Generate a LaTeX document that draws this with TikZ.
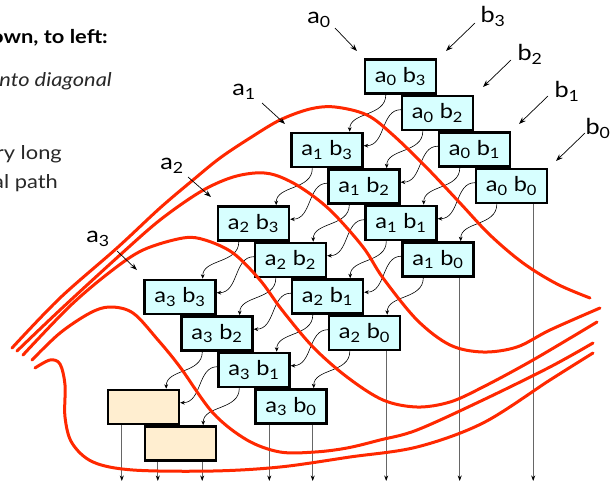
\documentclass[tikz,border=0pt]{standalone}
\usepackage{fontspec}
\setmainfont{Lato}[FakeStretch=1.15]
\usetikzlibrary{arrows.meta,calc}
\definecolor{cellblue}{RGB}{215,255,255}
\definecolor{celltan}{RGB}{255,238,208}
\definecolor{wire}{RGB}{255,40,0}
\definecolor{txt}{RGB}{40,40,40}
\begin{document}
\begin{tikzpicture}[x=1pt,y=-1pt,
  cell/.style={draw=black, line width=2.4pt, fill=cellblue, minimum width=71pt, minimum height=34.2pt, inner sep=0pt, font=\fontsize{20.5}{23}\selectfont},
  tancell/.style={cell, fill=celltan},
  carry/.style={line width=0.6pt, -{Stealth[length=4.5pt,width=3.8pt]}},
  outwire/.style={line width=0.8pt, draw=black!60, -{Stealth[length=5.5pt,width=4pt,color=black]}},
  feed/.style={line width=0.7pt, -{Stealth[length=7pt,width=5pt]}},
  lab/.style={font=\fontsize{22}{25}\selectfont, inner sep=0pt},
  side/.style={font=\fontsize{19}{23}\selectfont, text=txt, inner sep=0pt, anchor=base east},
  rwire/.style={draw=wire, line width=3pt, line cap=round}]
\useasboundingbox (0,0) rectangle (611,485);
\clip (0,0) rectangle (611,485);

% side text (cut off at the left edge, as in the reference)
\node[side, font=\bfseries\fontsize{19}{23}\selectfont, text=black] (t1) at (108,43) {own, to left:};
\node[side, font=\itshape\fontsize{19}{23}\selectfont] (t2) at (112,86) {nto diagonal};
\node[side] (t3) at (62,159) {ry long};
\node[side] (t4) at (58,188) {al path};

% cells
\foreach \i in {0,...,3}{
  \foreach \j in {0,...,3}{
    \node[cell] (c\i\j) at ({400.5+37*(3-\j)-73.5*\i},{76.5+36.5*(3-\j)+73.5*\i})
      {a\textsubscript{\i} b\textsubscript{\j}};
  }
}
\node[tancell] (t42) at (143.5,407) {};
\node[tancell] (t41) at (180.5,443.5) {};

% carry / sum arrows
\foreach \i/\ii in {0/1,1/2,2/3}{
  \foreach \j in {0,...,3}{
    \draw[carry] ($(c\i\j.south west)+(22,0)$) coordinate (p)
      .. controls ($(p)+(0,22)$) and ($(c\ii\j.north east)+(-14,-20)$) .. ($(c\ii\j.north east)+(-14,0)$);
  }
  \foreach \j/\jj in {0/1,1/2,2/3}{
    \draw[carry] ($(c\i\j.north west)+(0,15)$) coordinate (p)
      .. controls ($(p)+(-20,0)$) and ($(c\ii\jj.north east)+(22,14)$) .. ($(c\ii\jj.north east)+(0,14)$);
  }
}
\draw[carry] ($(c32.south west)+(22,0)$) coordinate (p)
  .. controls ($(p)+(0,22)$) and ($(t42.north east)+(-14,-20)$) .. ($(t42.north east)+(-14,0)$);
\draw[carry] ($(c31.south west)+(22,0)$) coordinate (p)
  .. controls ($(p)+(0,22)$) and ($(t41.north east)+(-14,-20)$) .. ($(t41.north east)+(-14,0)$);
\draw[carry] ($(c31.north west)+(0,15)$) coordinate (p)
  .. controls ($(p)+(-20,0)$) and ($(t42.north east)+(22,14)$) .. ($(t42.north east)+(0,14)$);

% outputs
\coordinate (bot) at (0,481);
\foreach \n/\dx/\anc in {c00/-15/south east, c10/-15/south east, c20/-15/south east,
    c30/-15/south east, c30/15/south west, t41/14/south west, t41/-15/south east, t42/15/south west}{
  \draw[outwire] ($(\n.\anc)+(\dx,0)$) coordinate (o) -- (o |- bot);
}

% red wires
\draw[rwire] plot[smooth, tension=0.55] coordinates {(12,348) (60,298) (117,248) (160,208) (193,180) (220,158) (250,138) (280,120) (310,109) (335,107) (367,115) (393,135) (427,168) (460,203) (490,235) (523,263) (557,284) (590,298)};
\draw[rwire] plot[smooth, tension=0.55] coordinates {(17,351) (60,310) (120,255) (160,220) (200,192) (230,178) (255,173) (275,175) (300,187) (330,210) (363,247) (383,278) (417,320) (450,345) (483,352) (517,347) (550,330) (600,308)};
\draw[rwire] plot[smooth, tension=0.55] coordinates {(23,355) (70,306) (110,272) (143,250) (183,238) (205,240) (233,253) (260,280) (282,310) (313,347) (347,377) (383,400) (417,407) (450,402) (483,387) (533,360) (597,322)};
\draw[rwire] plot[smooth, tension=0.55] coordinates {(32,360) (60,333) (90,313) (110,307) (133,313) (158,340) (180,367) (213,413) (247,440) (280,452) (315,452) (347,448) (380,440) (417,430) (483,400) (550,367) (593,343)};
\draw[rwire] plot[smooth, tension=0.55] coordinates {(35,368) (50,360) (60,364) (65,385) (65,417) (72,443) (93,462) (133,470) (213,471) (280,467) (350,457) (417,447) (483,423) (550,380) (593,353)};

% input labels and arrows
\node[lab] (la0) at (319,20) {a\textsubscript{0}};
\node[lab] (lb3) at (493,16) {b\textsubscript{3}};
\node[lab] (lb2) at (530,54) {b\textsubscript{2}};
\node[lab] (lb1) at (567,91) {b\textsubscript{1}};
\node[lab] (lb0) at (598,128) {b\textsubscript{0}};
\node[lab] (la1) at (244,92) {a\textsubscript{1}};
\node[lab] (la2) at (172,166) {a\textsubscript{2}};
\node[lab] (la3) at (98,239) {a\textsubscript{3}};
\foreach \n/\sx/\sy/\ex/\ey in {a0/335/28/357/51, b3/475/23/446/51, b2/511/60/483/87,
    b1/548/96/519/124, b0/585/133/556/161, a1/262/103/285/124, a2/188/177/211/197, a3/117/251/137/270}{
  \coordinate (s\n) at (\sx,\sy);
  \coordinate (e\n) at (\ex,\ey);
  \draw[feed] (s\n) -- (e\n);
}
\end{tikzpicture}
\end{document}
